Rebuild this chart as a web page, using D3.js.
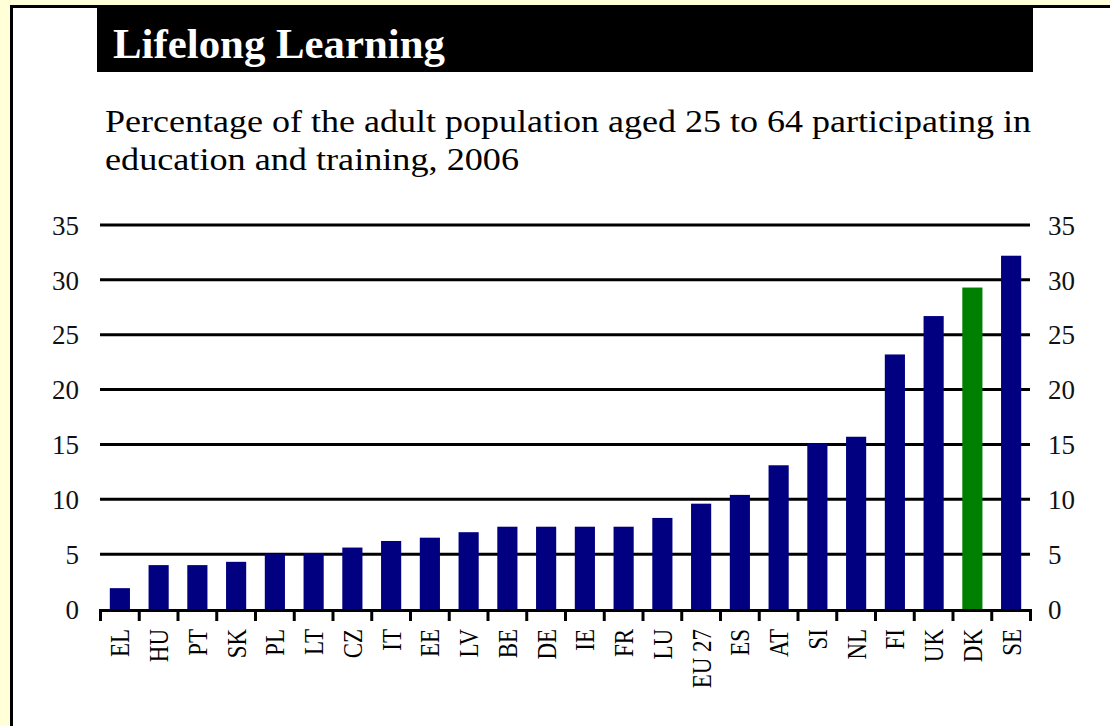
<!DOCTYPE html>
<html>
<head>
<meta charset="utf-8">
<script src="https://cdn.jsdelivr.net/npm/d3@7"></script>
<style>
html,body{margin:0;padding:0;background:#FFFFD8;}
svg{display:block;}
</style>
</head>
<body>
<svg id="chart" width="1110" height="726"></svg>
<script>
const categories = ["EL","HU","PT","SK","PL","LT","CZ","IT","EE","LV","BE","DE","IE","FR","LU","EU 27","ES","AT","SI","NL","FI","UK","DK","SE"];
const values = [1.9,4.0,4.0,4.3,5.0,5.1,5.6,6.2,6.5,7.0,7.5,7.5,7.5,7.5,8.3,9.6,10.4,13.1,15.1,15.7,23.2,26.7,29.3,32.2];
const highlight = ["DK"];
const yTicks = [0,5,10,15,20,25,30,35];
const title = "Lifelong Learning";
const subtitle = ["Percentage of the adult population aged 25 to 64 participating in", "education and training, 2006"];

const data = categories.map((c,i)=>({cat:c, val:values[i]}));
const svg = d3.select("#chart");
const serif = "'Liberation Serif','DejaVu Serif',serif";

// panel
svg.append("rect").attr("x",0).attr("y",0).attr("width",1110).attr("height",726).attr("fill","#FFFFD8");
svg.append("rect").attr("x",11.5).attr("y",6.5).attr("width",1110).attr("height",740)
  .attr("fill","#ffffff").attr("stroke","#000").attr("stroke-width",3);

// title bar
svg.append("rect").attr("x",97).attr("y",6).attr("width",936).attr("height",66).attr("fill","#000");
svg.append("text").attr("x",113).attr("y",58).text(title)
  .attr("fill","#fff").attr("font-family",serif).attr("font-weight","bold")
  .attr("font-size",42).attr("textLength",332).attr("lengthAdjust","spacingAndGlyphs");

// subtitle
svg.append("text").attr("x",105).attr("y",132).text(subtitle[0])
  .attr("fill","#000").attr("font-family",serif).attr("font-size",32)
  .attr("textLength",926).attr("lengthAdjust","spacingAndGlyphs");
svg.append("text").attr("x",105).attr("y",170).text(subtitle[1])
  .attr("fill","#000").attr("font-family",serif).attr("font-size",32)
  .attr("textLength",414).attr("lengthAdjust","spacingAndGlyphs");

// scales
const x = d3.scaleBand().domain(categories).range([100.5,1030.5]).paddingInner(0.48).paddingOuter(0.24);
const y = d3.scaleLinear().domain([0,35]).range([609,225]);

// gridlines
svg.append("g").selectAll("line").data(yTicks.filter(t=>t>0)).join("line")
  .attr("x1",100).attr("x2",1030).attr("y1",d=>y(d)).attr("y2",d=>y(d))
  .attr("stroke","#000").attr("stroke-width",3);

// bars
svg.append("g").selectAll("rect").data(data).join("rect")
  .attr("x",d=>x(d.cat)).attr("width",x.bandwidth())
  .attr("y",d=>y(d.val)).attr("height",d=>y(0)-y(d.val))
  .attr("fill",d=>highlight.includes(d.cat)?"#008000":"#000080");

// baseline and ticks
const step = x.step();
const x0 = x.range()[0];
svg.append("line").attr("x1",100).attr("x2",1032).attr("y1",y(0)+1.5).attr("y2",y(0)+1.5)
  .attr("stroke","#000").attr("stroke-width",3);
svg.append("g").selectAll("line").data(d3.range(categories.length+1)).join("line")
  .attr("x1",i=>x0+i*step).attr("x2",i=>x0+i*step)
  .attr("y1",y(0)).attr("y2",621).attr("stroke","#000").attr("stroke-width",3);

// y axes (labels)
const axL = svg.append("g").attr("transform","translate(100,0)")
  .call(d3.axisLeft(y).tickValues(yTicks).tickSize(0).tickPadding(21));
const axR = svg.append("g").attr("transform","translate(1030,0)")
  .call(d3.axisRight(y).tickValues(yTicks).tickSize(0).tickPadding(18));
[axL,axR].forEach(a=>{
  a.select(".domain").remove();
  a.selectAll("text").attr("font-family",serif).attr("font-size",27).attr("fill","#111")
    .attr("dy","0.34em");
});

// category labels
svg.append("g").selectAll("text").data(categories).join("text")
  .attr("transform",d=>`translate(${x(d)+x.bandwidth()/2},629) rotate(-90) scale(0.85,1)`)
  .attr("text-anchor","end").attr("dy","0.35em")
  .attr("font-family",serif).attr("font-size",27).attr("fill","#000")
  .text(d=>d);
</script>
</body>
</html>
